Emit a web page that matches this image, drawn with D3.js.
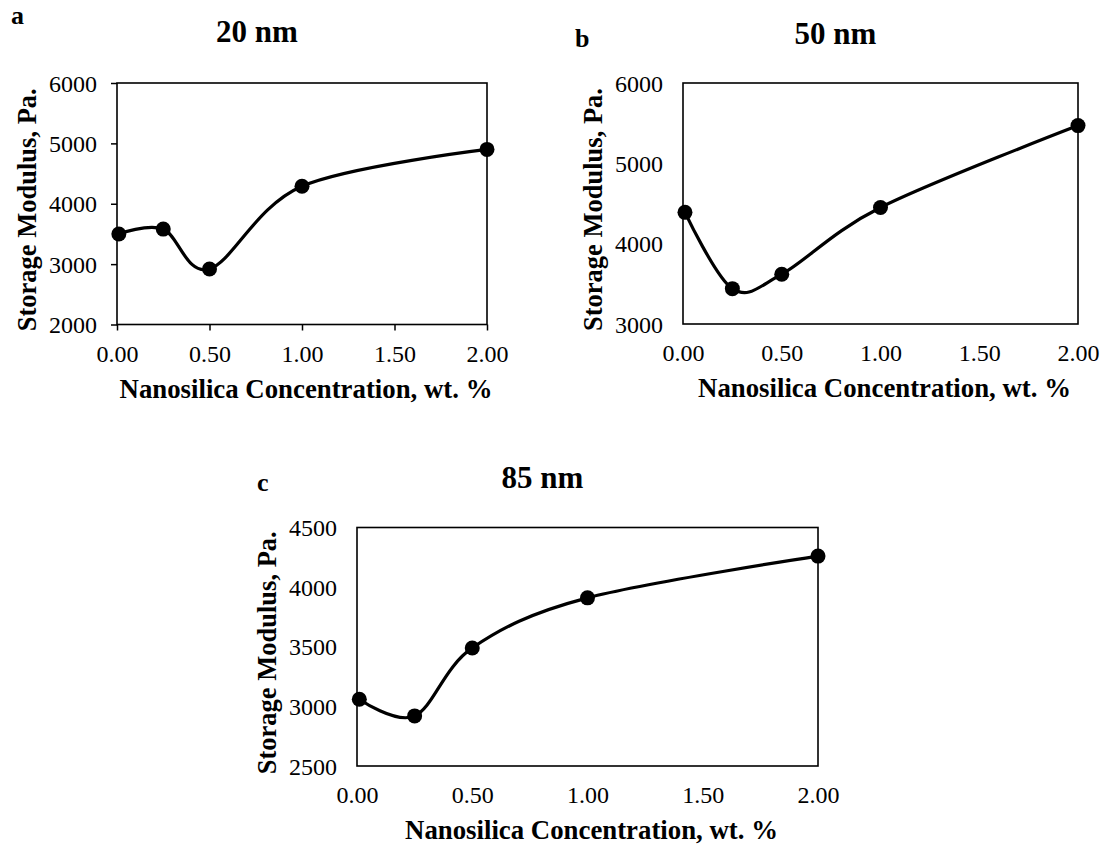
<!DOCTYPE html>
<html>
<head>
<meta charset="utf-8">
<script src="https://cdn.jsdelivr.net/npm/d3@7"></script>
<style>
  html, body { margin: 0; padding: 0; background: #fff; }
  svg { display: block; font-family: "Liberation Serif", "Times New Roman", serif; }
</style>
</head>
<body>
<svg id="chart" width="1107" height="848"></svg>
<script>
// ---- data ----
const xValues = [0.01, 0.25, 0.5, 1, 2];
const values20nm = [3500, 3580, 2920, 4290, 4900];
const values50nm = [4390, 3440, 3620, 4450, 5470];
const values85nm = [3060, 2920, 3490, 3910, 4260];
const xTicks = [0, 0.5, 1, 1.5, 2];
const yTicks20nm = [2000, 3000, 4000, 5000, 6000];
const yTicks50nm = [3000, 4000, 5000, 6000];
const yTicks85nm = [2500, 3000, 3500, 4000, 4500];
const panelTitles = ["20 nm", "50 nm", "85 nm"];
const panelLetters = ["a", "b", "c"];
const xAxisTitle = "Nanosilica Concentration, wt. %";
const yAxisTitle = "Storage Modulus, Pa.";

// ---- layout ----
const panels = [
  { values: values20nm, yTicks: yTicks20nm, title: panelTitles[0], letter: panelLetters[0],
    left: 117, right: 487, top: 83, bottom: 324.5, ticks: true,
    letterPos: [11, 24], titleBase: 42 },
  { values: values50nm, yTicks: yTicks50nm, title: panelTitles[1], letter: panelLetters[1],
    left: 683, right: 1078, top: 83, bottom: 324, ticks: false,
    letterPos: [575, 47], titleBase: 44 },
  { values: values85nm, yTicks: yTicks85nm, title: panelTitles[2], letter: panelLetters[2],
    left: 357, right: 818, top: 527.5, bottom: 766, ticks: false,
    letterPos: [257, 491], titleBase: 488 }
];

const FONT = "Liberation Serif, Times New Roman, serif";
const svg = d3.select("#chart");
svg.append("rect").attr("width", 1107).attr("height", 848).attr("fill", "#fff");

panels.forEach(p => {
  const x = d3.scaleLinear().domain([0, 2]).range([p.left, p.right]);
  const yExt = d3.extent(p.yTicks);
  const y = d3.scaleLinear().domain(yExt).range([p.bottom, p.top]);
  const tickSize = p.ticks ? 6 : 0;

  const g = svg.append("g");

  // y axis
  const ya = g.append("g").attr("transform", `translate(${p.left},0)`)
    .call(d3.axisLeft(y).tickValues(p.yTicks).tickSize(tickSize).tickPadding(20 - tickSize).tickFormat(d3.format("d")));
  ya.select(".domain").remove();
  ya.selectAll("line").attr("stroke", "#000").attr("stroke-width", 1.5);
  ya.selectAll("text").attr("font-size", 24).attr("fill", "#000")
    .attr("font-family", FONT).attr("dy", "0.34em");

  // x axis
  const xa = g.append("g").attr("transform", `translate(0,${p.bottom})`)
    .call(d3.axisBottom(x).tickValues(xTicks).tickSize(tickSize).tickFormat(d3.format(".2f")));
  xa.select(".domain").remove();
  xa.selectAll("line").attr("stroke", "#000").attr("stroke-width", 1.5);
  xa.selectAll("text").attr("font-size", 24).attr("fill", "#000")
    .attr("font-family", FONT)
    .attr("y", 37).attr("dy", null);

  // frame
  g.append("rect")
    .attr("x", p.left).attr("y", p.top)
    .attr("width", p.right - p.left).attr("height", p.bottom - p.top)
    .attr("fill", "none").attr("stroke", "#000").attr("stroke-width", 1.6);

  // smoothed line
  const pts = xValues.map((xv, i) => [xv, p.values[i]]);
  const line = d3.line().x(d => x(d[0])).y(d => y(d[1])).curve(d3.curveCardinal.tension(0));
  g.append("path").datum(pts).attr("d", line)
    .attr("fill", "none").attr("stroke", "#000").attr("stroke-width", 3.2);

  g.selectAll("circle.pt").data(pts).enter().append("circle")
    .attr("class", "pt")
    .attr("cx", d => x(d[0])).attr("cy", d => y(d[1])).attr("r", 7.5).attr("fill", "#000");

  const cx = (p.left + p.right) / 2;
  const cy = (p.top + p.bottom) / 2;

  // panel title
  g.append("text").attr("x", cx - 45).attr("y", p.titleBase)
    .attr("text-anchor", "middle").attr("font-weight", "bold").attr("font-size", 31)
    .text(p.title);

  // panel letter
  g.append("text").attr("x", p.letterPos[0]).attr("y", p.letterPos[1])
    .attr("font-weight", "bold").attr("font-size", 26).text(p.letter);

  // x title
  g.append("text").attr("x", cx + 4).attr("y", p.bottom + 73)
    .attr("text-anchor", "middle").attr("font-weight", "bold").attr("font-size", 26.8)
    .text(xAxisTitle);

  // y title
  g.append("text")
    .attr("transform", `translate(${p.left - 81},${cy + 6}) rotate(-90)`)
    .attr("text-anchor", "middle").attr("font-weight", "bold").attr("font-size", 26.5)
    .text(yAxisTitle);
});
</script>
</body>
</html>
